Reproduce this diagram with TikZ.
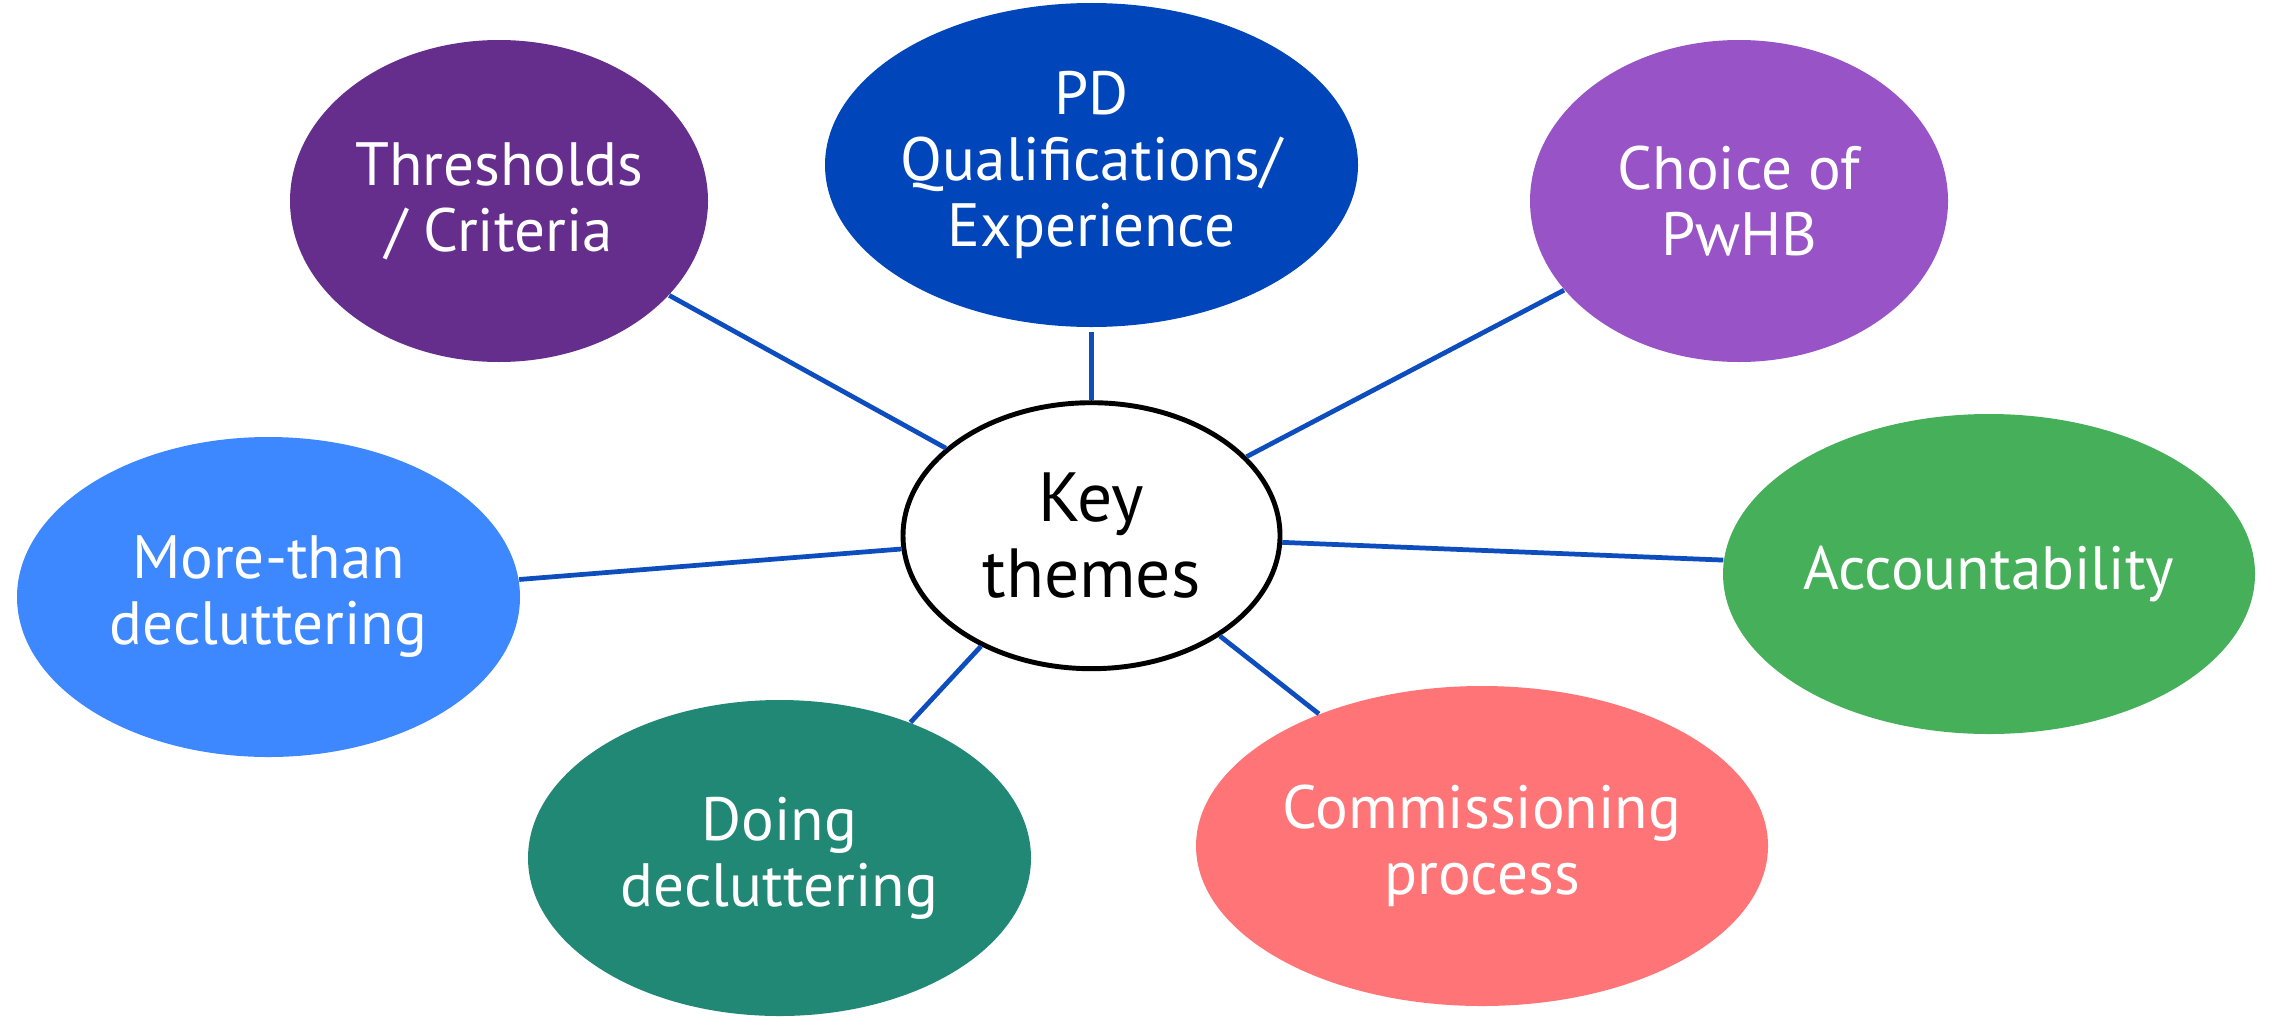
\documentclass[tikz,border=0pt]{standalone}
\usepackage{fontspec}
\setmainfont{PT Sans}
\usetikzlibrary{shapes.geometric}

\definecolor{cThr}{RGB}{102,46,140}
\definecolor{cPD}{RGB}{0,70,186}
\definecolor{cChoice}{RGB}{152,83,198}
\definecolor{cMore}{RGB}{61,135,255}
\definecolor{cAcc}{RGB}{69,175,90}
\definecolor{cDoing}{RGB}{34,136,118}
\definecolor{cComm}{RGB}{255,116,118}
\definecolor{cLink}{RGB}{13,77,190}

\tikzset{
  theme/.style={ellipse, draw=none, fill=#1, text=white, inner sep=-0.4cm,
    align=center, font=\fontsize{17.4}{18.8}\selectfont},
  hub/.style={ellipse, draw=black, line width=1.4pt, fill=white, inner sep=0pt,
    align=center, font=\fontsize{19.8}{21.8}\selectfont,
    minimum width=3.77cm, minimum height=2.66cm},
  link/.style={draw=cLink, line width=1.35pt}
}

\begin{document}
\begin{tikzpicture}
  \useasboundingbox (0,0) rectangle (22.7,-10.16);

  % outer themes
  \node[theme=cThr, minimum width=4.18cm, minimum height=3.22cm] (thr) at (4.99,-2.01) {Thresholds\\/ Criteria};
  \node[theme=cPD, minimum width=5.33cm, minimum height=3.24cm] (pd) at (10.915,-1.65) {PD\\Qualifications/\\Experience};
  \node[theme=cChoice, minimum width=4.18cm, minimum height=3.22cm] (choice) at (17.39,-2.01) {Choice of\\PwHB};
  \node[theme=cMore, minimum width=5.03cm, minimum height=3.20cm] (more) at (2.685,-5.97) {More-than\\decluttering};
  \node[theme=cAcc, minimum width=5.32cm, minimum height=3.20cm] (acc) at (19.89,-5.74) {Accountability};
  \node[theme=cDoing, minimum width=5.03cm, minimum height=3.16cm] (doing) at (7.795,-8.58) {Doing\\decluttering};
  \node[theme=cComm, minimum width=5.72cm, minimum height=3.20cm] (comm) at (14.82,-8.46) {Commissioning\\process};

  % central hub
  \node[hub] (key) at (10.915,-5.357) {Key\\themes};

  % spokes
  \draw[link] (thr.-29.8) -- (key.149.8);
  \draw[link] ([yshift=-0.045cm]pd.south) -- (key.north);
  \draw[link] (choice.207.5) -- (key.27.4);
  \draw[link] (acc.177.1) -- (key.-2.2);
  \draw[link] (more.4.4) -- (key.184);
  \draw[link] (doing.46.2) -- (key.225.8);
  \draw[link] (comm.141.6) -- (key.-38);
\end{tikzpicture}
\end{document}
